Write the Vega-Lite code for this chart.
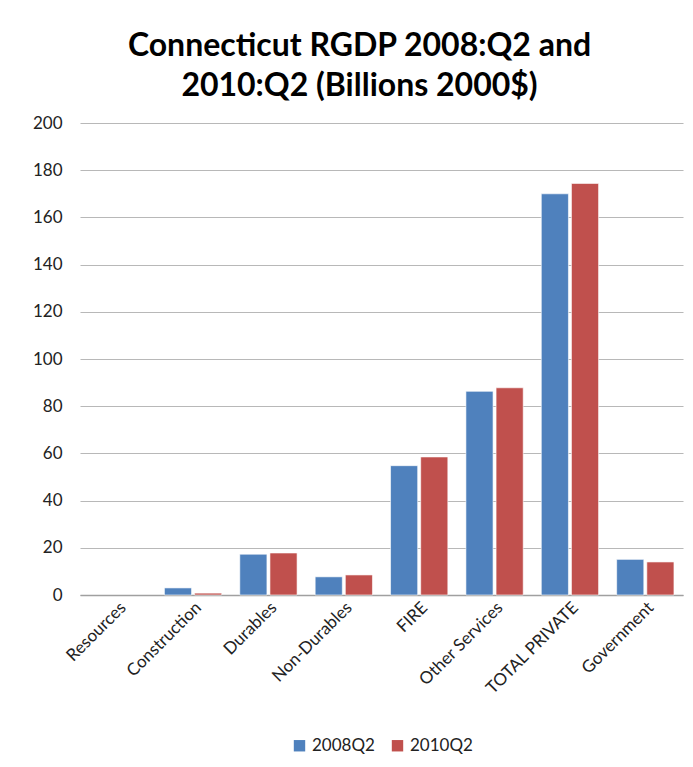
{
  "$schema": "https://vega.github.io/schema/vega-lite/v6.json",
  "autosize": "none",
  "width": 603,
  "height": 472,
  "padding": {"left": 80, "top": 123, "right": 10, "bottom": 172},
  "background": "white",
  "title": {
    "text": ["Connecticut RGDP 2008:Q2 and", "2010:Q2 (Billions 2000$)"],
    "font": "Lato",
    "fontSize": 32,
    "fontWeight": "bold",
    "color": "#000000",
    "lineHeight": 40,
    "anchor": "middle",
    "dx": -22,
    "offset": 11
  },
  "data": {
    "values": [
      {"sector": "Resources", "period": "2008Q2", "value": null},
      {"sector": "Resources", "period": "2010Q2", "value": null},
      {"sector": "Construction", "period": "2008Q2", "value": 3.0},
      {"sector": "Construction", "period": "2010Q2", "value": 0.8},
      {"sector": "Durables", "period": "2008Q2", "value": 17.3},
      {"sector": "Durables", "period": "2010Q2", "value": 17.8},
      {"sector": "Non-Durables", "period": "2008Q2", "value": 7.7},
      {"sector": "Non-Durables", "period": "2010Q2", "value": 8.5},
      {"sector": "FIRE", "period": "2008Q2", "value": 54.8},
      {"sector": "FIRE", "period": "2010Q2", "value": 58.5},
      {"sector": "Other Services", "period": "2008Q2", "value": 86.3},
      {"sector": "Other Services", "period": "2010Q2", "value": 87.8},
      {"sector": "TOTAL PRIVATE", "period": "2008Q2", "value": 170.0},
      {"sector": "TOTAL PRIVATE", "period": "2010Q2", "value": 174.4},
      {"sector": "Government", "period": "2008Q2", "value": 15.1},
      {"sector": "Government", "period": "2010Q2", "value": 14.0}
    ]
  },
  "mark": {"type": "bar", "stroke": "#ffffff", "strokeOpacity": 0.6, "strokeWidth": 1},
  "encoding": {
    "x": {
      "field": "sector",
      "type": "nominal",
      "sort": null,
      "scale": {"domain": ["Resources", "Construction", "Durables", "Non-Durables", "FIRE", "Other Services", "TOTAL PRIVATE", "Government"], "paddingInner": 0.24, "paddingOuter": 0.12},
      "axis": {
        "title": null,
        "labelAngle": -45,
        "labelAlign": "right",
        "labelBaseline": "top",
        "labelFont": "Lato",
        "labelFontSize": 17,
        "labelColor": "#222222",
        "labelPadding": 4,
        "ticks": false,
        "domainColor": "#a0a0a0",
        "domainWidth": 1.5,
        "grid": false
      }
    },
    "xOffset": {"field": "period", "type": "nominal", "scale": {"paddingInner": 0.1}},
    "y": {
      "field": "value",
      "type": "quantitative",
      "scale": {"domain": [0, 200]},
      "axis": {
        "title": null,
        "values": [0, 20, 40, 60, 80, 100, 120, 140, 160, 180, 200],
        "labelFont": "Lato",
        "labelFontSize": 17,
        "labelColor": "#222222",
        "labelPadding": 18,
        "ticks": false,
        "domain": false,
        "gridColor": "#b8b8b8",
        "gridWidth": 1.2
      }
    },
    "color": {
      "field": "period",
      "type": "nominal",
      "scale": {"domain": ["2008Q2", "2010Q2"], "range": ["#4F81BD", "#C0504D"]},
      "legend": {
        "title": null,
        "orient": "bottom",
        "direction": "horizontal",
        "symbolType": "square",
        "symbolSize": 130,
        "symbolStrokeWidth": 0,
        "labelFont": "Lato",
        "labelFontSize": 17,
        "labelColor": "#222222",
        "columnPadding": 14,
        "offset": 40
      }
    }
  },
  "config": {
    "view": {"stroke": null},
    "legend": {"layout": {"bottom": {"anchor": "middle"}}}
  }
}
